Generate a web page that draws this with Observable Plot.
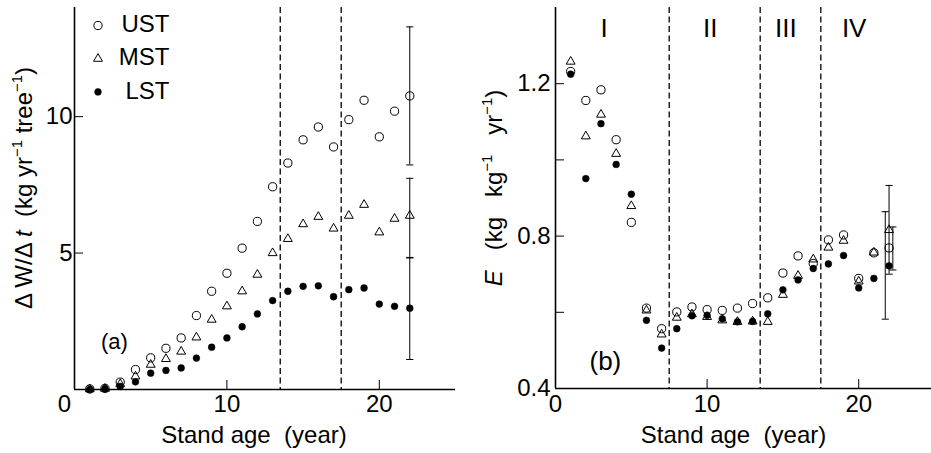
<!DOCTYPE html>
<html><head><meta charset="utf-8">
<script src="https://cdn.jsdelivr.net/npm/d3@7"></script>
<script src="https://cdn.jsdelivr.net/npm/@observablehq/plot@0.6"></script>
<style>
html,body{margin:0;padding:0;background:#fff;}
#wrap{display:flex;width:931px;height:453px;overflow:hidden;background:#fff;}
#wrap svg{display:block;}
</style></head><body><div id="wrap"></div>
<script>
// ---------- data ----------
const ages = [1,2,3,4,5,6,7,8,9,10,11,12,13,14,15,16,17,18,19,20,21,22];

// Panel (a): ΔW/Δt (kg yr-1 tree-1)
const ustGrowth = [0.02,0.04,0.27,0.73,1.16,1.51,1.89,2.71,3.60,4.26,5.18,6.16,7.43,8.30,9.15,9.62,8.89,9.89,10.60,9.26,10.20,10.76];
const mstGrowth = [0.01,0.03,0.20,0.48,0.91,1.12,1.39,1.91,2.56,3.05,3.60,4.21,5.00,5.52,6.06,6.33,5.90,6.37,6.77,5.76,6.26,6.37];
const lstGrowth = [0.00,0.03,0.11,0.28,0.60,0.70,0.79,1.15,1.55,1.89,2.30,2.77,3.26,3.60,3.78,3.80,3.40,3.66,3.72,3.13,3.05,2.98];

// Panel (a) error bars (UST, MST, LST)
const errAx  = [22, 22, 22];
const errAlo = [8.23, 4.84, 1.10];
const errAhi = [13.29, 7.74, 4.82];

// Panel (b): E (kg kg-1 yr-1)
const ustE = [1.232,1.156,1.184,1.053,0.836,0.611,0.557,0.601,0.614,0.607,0.605,0.611,0.623,0.638,0.703,0.748,0.728,0.790,0.803,0.689,0.756,0.769];
const mstE = [1.258,1.062,1.119,1.016,0.879,0.605,0.542,0.586,0.595,0.588,0.579,0.575,0.576,0.575,0.646,0.696,0.739,0.770,0.788,0.681,0.757,0.816];
const lstE = [1.225,0.951,1.095,0.988,0.910,0.579,0.506,0.557,0.591,0.592,0.583,0.575,0.576,0.596,0.659,0.685,0.715,0.727,0.749,0.664,0.689,0.722];

// Panel (b) error bars (UST, MST, LST)
const errBx  = [22.25, 22, 21.75];
const errBlo = [0.711, 0.700, 0.582];
const errBhi = [0.824, 0.933, 0.864];

const seriesNames = ["UST", "MST", "LST"];
const boundsA = [13.5, 17.5];
const boundsB = [7.5, 13.5, 17.5];
const phaseNames = ["I", "II", "III", "IV"];
const phaseX = [3.2, 10.2, 15.2, 19.7];

const xTicksA = [10, 20];
const yTicksA = [0, 5, 10];
const yLabelsA = [5, 10];
const xTicksB = [0, 10, 20];
const yTicksB = [0.4, 0.6, 0.8, 1.0, 1.2];
const yLabelsB = [0.4, 0.8, 1.2];

// ---------- styles ----------
const FONT = '"Liberation Sans", Arial, Helvetica, sans-serif';
const look = {
  UST: {symbol: "circle", fill: "none", r: 4.1, strokeWidth: 1},
  MST: {symbol: "triangle", fill: "none", r: 3.3, strokeWidth: 1},
  LST: {symbol: "circle", fill: "black", r: 3.4, strokeWidth: 0.5}
};
const capSymbol = {draw(ctx) { ctx.moveTo(-3.6, 0); ctx.lineTo(3.6, 0); }};

const table = (xs, ys) => xs.map((x, i) => ({x, y: ys[i]}));
const errTable = (xs, lo, hi) => xs.map((x, i) => ({x, lo: lo[i], hi: hi[i]}));

function seriesMarks(valsByName) {
  return seriesNames.map(n => Plot.dot(table(ages, valsByName[n]), {
    x: "x", y: "y", symbol: look[n].symbol, r: look[n].r,
    fill: look[n].fill, stroke: "black", strokeWidth: look[n].strokeWidth
  }));
}
function errMarks(rows) {
  return [
    Plot.ruleX(rows, {x: "x", y1: "lo", y2: "hi", stroke: "black", strokeWidth: 1}),
    Plot.dot(rows, {x: "x", y: "lo", symbol: capSymbol, stroke: "black", strokeWidth: 1, fill: "none"}),
    Plot.dot(rows, {x: "x", y: "hi", symbol: capSymbol, stroke: "black", strokeWidth: 1, fill: "none"})
  ];
}

function addYTitle(svg, parts, x, y, size) {
  const t = d3.select(svg).append("text")
    .attr("transform", `translate(${x},${y}) rotate(-90)`)
    .attr("text-anchor", "middle")
    .attr("font-family", FONT)
    .attr("font-size", size)
    .attr("fill", "black")
    .style("white-space", "pre");
  let shifted = false;
  const sh = size * 0.42;
  parts.forEach(p => {
    const s = t.append("tspan").text(p.t);
    if (p.it) s.attr("font-style", "italic");
    if (p.sup) { s.attr("font-size", size * 0.62).attr("dy", -sh); shifted = true; }
    else if (shifted) { s.attr("dy", sh); shifted = false; }
  });
}

const baseStyle = {fontFamily: FONT, fontSize: "24px", color: "black", background: "white", overflow: "visible"};
const dash = {stroke: "black", strokeWidth: 1.3, strokeDasharray: "6,3.5"};

// ---------- panel (a) ----------
const plotA = Plot.plot({
  width: 470, height: 453,
  marginLeft: 74, marginRight: 15, marginTop: 7, marginBottom: 64,
  x: {domain: [0, 25]},
  y: {domain: [0, 14]},
  style: baseStyle,
  marks: [
    Plot.ruleX(boundsA, dash),
    Plot.ruleX([0], {stroke: "black", strokeWidth: 1.6}),
    Plot.ruleY([0], {stroke: "black", strokeWidth: 1.6}),
    Plot.axisX({ticks: xTicksA, tickSize: 9, dy: -9, tickFormat: () => "", fill: "none", label: null}),
    Plot.axisX({ticks: xTicksA, tickSize: 0, tickPadding: 5, label: null}),
    Plot.axisX({ticks: [0], tickSize: 0, tickPadding: 5, dx: -10, label: null}),
    Plot.axisY({ticks: yTicksA, tickSize: 9, dx: 9, tickFormat: () => "", fill: "none", label: null}),
    Plot.axisY({ticks: yLabelsA, tickSize: 0, tickPadding: 2, label: null}),
    ...errMarks(errTable(errAx, errAlo, errAhi)),
    ...seriesMarks({UST: ustGrowth, MST: mstGrowth, LST: lstGrowth}),
    ...seriesNames.flatMap((n, i) => [
      Plot.dot([n], {frameAnchor: "top-left", dx: 23.5, dy: 18 + i * 33.2,
        symbol: look[n].symbol, r: look[n].r, fill: look[n].fill, stroke: "black", strokeWidth: look[n].strokeWidth}),
      Plot.text([n], {text: d => d, frameAnchor: "top-left", dx: 95, dy: 17 + i * 33.2,
        textAnchor: "end", lineAnchor: "middle", fontSize: 24})
    ]),
    Plot.text(["(a)"], {text: d => d, frameAnchor: "bottom-left", dx: 26.5, dy: -48, lineAnchor: "middle", fontSize: 22}),
    Plot.text(["Stand age\u00a0\u00a0(year)"], {text: d => d, frameAnchor: "bottom", dx: -11, dy: 46, lineAnchor: "middle", fontSize: 24})
  ]
});
addYTitle(plotA, [
  {t: "\u0394 W/\u0394 "}, {t: "t", it: true}, {t: "\u00a0\u00a0(kg yr"}, {t: "\u22121", sup: true},
  {t: " tree"}, {t: "\u22121", sup: true}, {t: ")"}
], 32, 188, 24);

// ---------- panel (b) ----------
const plotB = Plot.plot({
  width: 461, height: 453,
  marginLeft: 85, marginRight: 0, marginTop: 7, marginBottom: 65,
  x: {domain: [0, 24.8]},
  y: {domain: [0.4, 1.4]},
  style: baseStyle,
  marks: [
    Plot.ruleX(boundsB, dash),
    Plot.ruleX([0], {stroke: "black", strokeWidth: 1.6}),
    Plot.ruleY([0.4], {stroke: "black", strokeWidth: 1.6}),
    Plot.axisX({ticks: xTicksB, tickSize: 9, dy: -9, tickFormat: () => "", fill: "none", label: null}),
    Plot.axisX({ticks: xTicksB, tickSize: 0, tickPadding: 6, label: null}),
    Plot.axisY({ticks: yTicksB, tickSize: 9, dx: 9, tickFormat: () => "", fill: "none", label: null}),
    Plot.axisY({ticks: yLabelsB, tickSize: 0, tickPadding: 5, tickFormat: d3.format(".1f"), label: null}),
    Plot.text(phaseNames, {x: (d, i) => phaseX[i], text: d => d, frameAnchor: "top", dy: 21, lineAnchor: "middle", fontSize: 26}),
    ...errMarks(errTable(errBx, errBlo, errBhi)),
    ...seriesMarks({UST: ustE, MST: mstE, LST: lstE}),
    Plot.text(["(b)"], {text: d => d, frameAnchor: "bottom-left", dx: 34, dy: -27, lineAnchor: "middle", fontSize: 26}),
    Plot.text(["Stand age\u00a0\u00a0(year)"], {text: d => d, frameAnchor: "bottom", dx: -10, dy: 47, lineAnchor: "middle", fontSize: 24})
  ]
});
addYTitle(plotB, [
  {t: "E", it: true}, {t: "\u00a0\u00a0\u00a0(kg\u00a0\u00a0\u00a0kg"}, {t: "\u22121", sup: true},
  {t: "\u00a0\u00a0\u00a0yr"}, {t: "\u22121", sup: true}, {t: ")"}
], 32, 188, 24);

const wrap = document.getElementById("wrap");
wrap.appendChild(plotA);
wrap.appendChild(plotB);
</script>
</body></html>
